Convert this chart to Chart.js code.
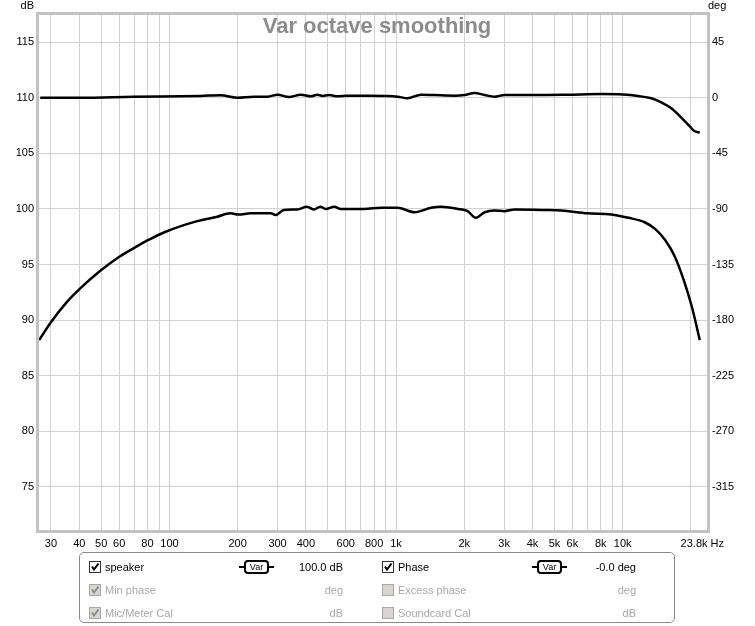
<!DOCTYPE html>
<html>
<head>
<meta charset="utf-8">
<script src="https://cdn.jsdelivr.net/npm/chart.js@4.4.1/dist/chart.umd.min.js"></script>
<style>
  body { margin: 0; background: #fff; font-family: "Liberation Sans", Arial, sans-serif; }
  #wrap { position: relative; width: 755px; height: 626px; }
  #rew { position: absolute; left: 0; top: 0; }
  #panel { position: absolute; left: 79px; top: 552px; width: 594px; height: 69px;
           border: 1px solid #8a8a8a; border-radius: 5px; font-size: 11px; }
  .row { position: absolute; height: 14px; line-height: 14px; }
  .box { position: absolute; width: 10px; height: 10px; border: 1px solid #333; background: #fff; }
  .box svg { position: absolute; left: 0; top: 0; }
  .box.off { border-color: #a8a8a8; background: #d8d5ce; }
  .lbl { position: absolute; white-space: nowrap; }
  .val { position: absolute; white-space: nowrap; text-align: right; width: 80px; }
  .dim { color: #a8a8a8; }
  .var { position: absolute; width: 35px; height: 14px; }
  .var .stub { position: absolute; top: 6px; width: 6px; height: 2px; background: #000; }
  .var .pill { position: absolute; left: 5px; top: 0; width: 21px; height: 10px; border: 2px solid #000;
               border-radius: 4px; font-size: 9px; line-height: 10px; text-align: center; }
</style>
</head>
<body>
<div id="wrap">
  <canvas id="rew" width="755" height="626"></canvas>
  <div id="panel"></div>
</div>
<script>
// speaker SPL (dB, left axis)
const splFreq = [26.6, 30.1, 35.0, 40.4, 50.0, 60.1, 70.0, 81.6, 95.0, 132.6, 162.6, 186, 202, 228, 280, 294,
  320, 367, 404, 435, 463, 489, 534, 570, 722, 860, 1016, 1205, 1427, 1580, 1875, 2070, 2245, 2460,
  2710, 3010, 3330, 4530, 5360, 7010, 8900, 10600, 12500, 13900, 15400, 17000, 18600, 20200, 21900];
const splDb = [88.2, 89.85, 91.55, 92.85, 94.5, 95.7, 96.5, 97.25, 97.9, 98.9, 99.3, 99.6, 99.5, 99.6, 99.6, 99.45,
  99.9, 99.95, 100.2, 99.95, 100.2, 100.0, 100.2, 100.0, 100.0, 100.1, 100.1, 99.7, 100.1, 100.2, 100.0, 99.8, 99.2, 99.7,
  99.85, 99.8, 99.95, 99.9, 99.85, 99.6, 99.5, 99.2, 98.8, 98.2, 97.2, 95.7, 93.6, 91.2, 88.2];

// phase (deg, right axis)
const phaseFreq = [26.9, 40.4, 69.3, 137, 168, 199, 236, 271, 300, 337, 380, 421, 450, 473, 507, 553, 612,
  750, 918, 1016, 1124, 1288, 1475, 1810, 2005, 2220, 2460, 2720, 3010, 4110, 5730, 8070, 10030,
  11700, 13400, 14800, 16400, 18100, 19700, 20700, 21900];
const phaseDeg = [0, 0, 0.8, 1.5, 2.0, 0.1, 0.9, 0.9, 2.5, 0.6, 2.5, 1.2, 2.5, 1.5, 2.2, 1.2, 1.7,
  1.7, 1.5, 0.9, -0.4, 2.5, 2.2, 1.7, 2.2, 3.9, 2.2, 0.9, 2.2, 2.2, 2.5, 3.0, 2.6,
  1.4, -0.4, -3.7, -8.5, -15.8, -22.8, -26.9, -28.2];

// axes
const xGrid = [30, 40, 50, 60, 70, 80, 90, 100, 200, 300, 400, 500, 600, 700, 800, 900,
  1000, 2000, 3000, 4000, 5000, 6000, 7000, 8000, 9000, 10000, 20000];
const xLabels = {30: '30', 40: '40', 50: '50', 60: '60', 80: '80', 100: '100', 200: '200', 300: '300',
  400: '400', 600: '600', 800: '800', 1000: '1k', 2000: '2k', 3000: '3k', 4000: '4k', 5000: '5k',
  6000: '6k', 8000: '8k', 10000: '10k'};
const xEndLabel = '23.8k Hz';
const dbTicks = [75, 80, 85, 90, 95, 100, 105, 110, 115];
const degTicks = [-315, -270, -225, -180, -135, -90, -45, 0, 45];

const tickFont = { family: '"Liberation Sans", Arial, sans-serif', size: 11 };

// REW style frame, title and unit labels
const rewFrame = {
  id: 'rewFrame',
  afterDatasetsDraw(chart) {
    const { ctx, chartArea: a } = chart;
    ctx.save();
    ctx.strokeStyle = '#c2c2c2';
    ctx.lineWidth = 3;
    ctx.strokeRect(a.left - 0.5, a.top - 0.5, a.right - a.left + 1, a.bottom - a.top + 1);
    ctx.font = 'bold 22px "Liberation Sans", Arial, sans-serif';
    ctx.fillStyle = '#8c8c8c';
    ctx.textAlign = 'center';
    ctx.textBaseline = 'middle';
    ctx.fillText('Var octave smoothing', 377, 27);
    ctx.font = '11px "Liberation Sans", Arial, sans-serif';
    ctx.fillStyle = '#000';
    ctx.textAlign = 'right';
    ctx.fillText('dB', 34, 6);
    ctx.textAlign = 'left';
    ctx.fillText('deg', 708, 6);
    ctx.textAlign = 'right';
    ctx.fillText(xEndLabel, a.right + 16, a.bottom + 13);
    ctx.restore();
  }
};

new Chart(document.getElementById('rew'), {
  type: 'line',
  data: {
    datasets: [{
      label: 'speaker',
      data: splFreq.map((f, i) => ({ x: f, y: splDb[i] })),
      yAxisID: 'y',
      borderColor: '#000',
      borderWidth: 2.5,
      pointRadius: 0,
      cubicInterpolationMode: 'monotone'
    }, {
      label: 'Phase',
      data: phaseFreq.map((f, i) => ({ x: f, y: phaseDeg[i] })),
      yAxisID: 'y2',
      borderColor: '#000',
      borderWidth: 2.5,
      pointRadius: 0,
      cubicInterpolationMode: 'monotone'
    }]
  },
  options: {
    responsive: false,
    animation: false,
    layout: { padding: { top: 14, bottom: 75, left: 0, right: 0 } },
    plugins: { legend: { display: false }, tooltip: { enabled: false } },
    scales: {
      x: {
        type: 'logarithmic',
        min: 26.3,
        max: 23800,
        afterBuildTicks: s => { s.ticks = xGrid.map(v => ({ value: v })); },
        afterFit: s => { s.height = 20; },
        ticks: {
          autoSkip: false, maxRotation: 0, padding: 6, color: '#000', font: tickFont,
          callback: v => xLabels[v] || ''
        },
        grid: { color: '#d2d2d2', drawTicks: false },
        border: { display: false }
      },
      y: {
        position: 'left',
        min: 71.03,
        max: 117.53,
        afterBuildTicks: s => { s.ticks = dbTicks.map(v => ({ value: v })); },
        afterFit: s => { s.width = 38; },
        ticks: { padding: 4, color: '#000', font: tickFont },
        grid: { color: '#d2d2d2', drawTicks: false },
        border: { display: false }
      },
      y2: {
        position: 'right',
        min: -350.7,
        max: 67.8,
        afterBuildTicks: s => { s.ticks = degTicks.map(v => ({ value: v })); },
        afterFit: s => { s.width = 47; },
        ticks: { padding: 4, color: '#000', font: tickFont },
        grid: { display: false, drawTicks: false },
        border: { display: false }
      }
    }
  },
  plugins: [rewFrame]
});

// control panel under the graph
const rows = [
  { x: 9, y: 7, on: true, dim: false, text: 'speaker', pill: true, value: '100.0 dB' },
  { x: 9, y: 30, on: true, dim: true, text: 'Min phase', pill: false, value: 'deg' },
  { x: 9, y: 53, on: true, dim: true, text: 'Mic/Meter Cal', pill: false, value: 'dB' },
  { x: 302, y: 7, on: true, dim: false, text: 'Phase', pill: true, value: '-0.0 deg' },
  { x: 302, y: 30, on: false, dim: true, text: 'Excess phase', pill: false, value: 'deg' },
  { x: 302, y: 53, on: false, dim: true, text: 'Soundcard Cal', pill: false, value: 'dB' }
];
const panel = document.getElementById('panel');
rows.forEach(r => {
  const row = document.createElement('div');
  row.className = 'row';
  row.style.left = r.x + 'px';
  row.style.top = r.y + 'px';
  const tick = r.on
    ? '<svg width="10" height="10"><polyline points="2,4.5 4,7.5 8.5,1.5" fill="none" stroke="' +
      (r.dim ? '#8e8e8e' : '#000') + '" stroke-width="2"/></svg>'
    : '';
  let html = '<div class="box' + (r.dim ? ' off' : '') + '" style="left:0;top:1px">' + tick + '</div>' +
    '<span class="lbl' + (r.dim ? ' dim' : '') + '" style="left:16px;top:0">' + r.text + '</span>';
  if (r.pill) {
    html += '<div class="var" style="left:150px;top:0"><div class="stub" style="left:0"></div>' +
      '<div class="pill">Var</div><div class="stub" style="left:29px"></div></div>';
  }
  html += '<span class="val' + (r.dim ? ' dim' : '') + '" style="left:174px;top:0">' + r.value + '</span>';
  row.innerHTML = html;
  panel.appendChild(row);
});
</script>
</body>
</html>
